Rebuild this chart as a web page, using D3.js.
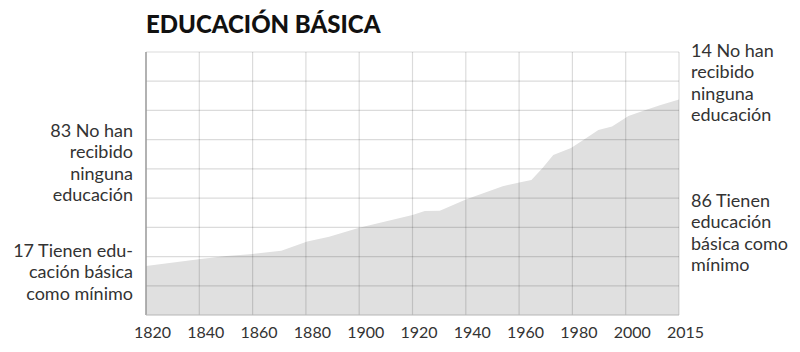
<!DOCTYPE html>
<html>
<head>
<meta charset="utf-8">
<script src="https://cdn.jsdelivr.net/npm/d3@7"></script>
<style>
  body { margin: 0; background: #fff; }
  svg { display: block; font-family: Lato, "Open Sans", sans-serif; }
</style>
</head>
<body>
<div id="chart"></div>
<script>
const years = [1820, 1840, 1849.5, 1859, 1869.5, 1879, 1887, 1898, 1917.5, 1922, 1927.5, 1937, 1950.5, 1957, 1961, 1965, 1969, 1975.5, 1980, 1985.5, 1990.5, 1996.5, 2002, 2008, 2015];
const basicShare = [18.6, 21.3, 22.4, 23.2, 24.4, 27.9, 29.8, 33.2, 38.0, 39.5, 39.6, 43.9, 49.0, 50.5, 51.3, 55.8, 60.8, 63.5, 66.5, 70.3, 71.7, 75.7, 77.7, 79.8, 81.9];
const tickLabels = ["1820", "1840", "1860", "1880", "1900", "1920", "1940", "1960", "1980", "2000", "2015"];
const leftTop = ["83 No han", "recibido", "ninguna", "educación"];
const leftBottom = ["17 Tienen edu-", "cación básica", "como mínimo"];
const rightTop = ["14 No han", "recibido", "ninguna", "educación"];
const rightBottom = ["86 Tienen", "educación", "básica como", "mínimo"];

const W = 800, H = 352;
const x0 = 146, x1 = 679, yTop = 52, yBot = 315;

const svg = d3.select("#chart").append("svg")
  .attr("width", W)
  .attr("height", H);

const x = d3.scaleLinear().domain([1820, 2015]).range([x0, x1]);
const y = d3.scaleLinear().domain([0, 100]).range([yBot, yTop]);

const data = years.map((yr, i) => ({ year: yr, value: basicShare[i] }));

// area
svg.append("path")
  .datum(data)
  .attr("fill", "#e0e0e0")
  .attr("d", d3.area().x(d => x(d.year)).y0(yBot).y1(d => y(d.value)));

// grid: 10 columns, 9 rows
const colPos = d3.range(11).map(i => x0 + (x1 - x0) * i / 10);
const rowPos = d3.range(10).map(i => yTop + (yBot - yTop) * i / 9);

svg.append("g").selectAll("line")
  .data(colPos.slice(1))
  .join("line")
  .attr("x1", d => d).attr("x2", d => d)
  .attr("y1", yTop).attr("y2", yBot)
  .attr("stroke", "rgba(0,0,0,0.14)")
  .attr("stroke-width", 1.2);

svg.append("g").selectAll("line")
  .data(rowPos.slice(0, -1))
  .join("line")
  .attr("x1", x0).attr("x2", x1)
  .attr("y1", d => d).attr("y2", d => d)
  .attr("stroke", "rgba(0,0,0,0.14)")
  .attr("stroke-width", 1.2);

// axis lines
svg.append("line")
  .attr("x1", x0).attr("x2", x0).attr("y1", yTop).attr("y2", yBot)
  .attr("stroke", "#999").attr("stroke-width", 1.5);
svg.append("line")
  .attr("x1", x0).attr("x2", x1).attr("y1", yBot).attr("y2", yBot)
  .attr("stroke", "#b5b5b5").attr("stroke-width", 1.2);

// tick labels
svg.append("g").selectAll("text")
  .data(tickLabels)
  .join("text")
  .attr("x", (d, i) => colPos[i] + 6.5)
  .attr("y", 338)
  .attr("text-anchor", "middle")
  .attr("fill", "#333")
  .style("font-size", "16px")
  .text(d => d);

// title
svg.append("text")
  .attr("x", 146)
  .attr("y", 33)
  .attr("fill", "#111")
  .style("font-size", "24px")
  .style("font-weight", "900")
  .text("EDUCACIÓN BÁSICA");

function block(lines, xPos, yStart, anchor) {
  svg.append("g").selectAll("text")
    .data(lines)
    .join("text")
    .attr("x", xPos)
    .attr("y", (d, i) => yStart + i * 21.3)
    .attr("text-anchor", anchor)
    .attr("fill", "#333")
    .style("font-size", "18px")
    .text(d => d);
}

block(leftTop, 133, 137, "end");
block(leftBottom, 133, 257, "end");
block(rightTop, 691, 57, "start");
block(rightBottom, 691, 207, "start");
</script>
</body>
</html>
